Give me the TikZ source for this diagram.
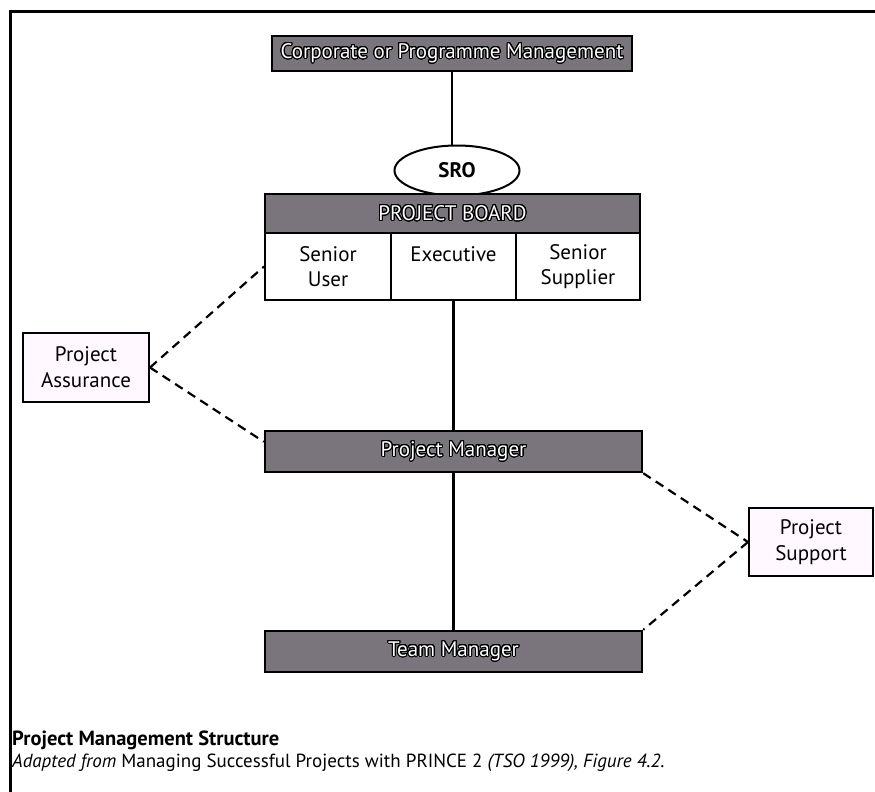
\documentclass[tikz,border=0pt]{standalone}
\usepackage{fontspec}
\setmainfont{PT Sans}
\usepackage{contour}
\contourlength{1.0pt}
\contournumber{32}
\usetikzlibrary{shapes.geometric,calc}
\definecolor{boxgray}{RGB}{122,117,124}
\definecolor{boxpink}{RGB}{255,248,255}
\newcommand\wtxt[1]{{\color{white}\contour{black}{#1}}}
\begin{document}
\begin{tikzpicture}[x=1pt,y=-1pt,
  darkbox/.style={draw=black, line width=2.4pt, fill=boxgray, inner sep=0pt, font=\fontsize{21}{23}\selectfont},
  cellbox/.style={draw=black, line width=2pt, fill=white, inner sep=0pt, align=center, minimum height=67pt, font=\fontsize{21}{25}\selectfont},
  sidebox/.style={draw=black, line width=2pt, fill=boxpink, inner sep=0pt, align=center, font=\fontsize{21}{26}\selectfont},
  sroshape/.style={ellipse, draw=black, line width=2pt, fill=white, minimum width=125pt, minimum height=50pt, inner sep=0pt, font=\bfseries\fontsize{21}{23}\selectfont},
  link/.style={line width=2.2pt},
  dlink/.style={line width=2.2pt, dash pattern=on 9pt off 6pt}]
\useasboundingbox (0,0) rectangle (875,792);
\fill[white] (0,0) rectangle (875,792);
\draw[line width=3pt] (10,792) -- (10,12) -- (875,12);

\node[darkbox, minimum width=360pt, minimum height=35pt] (corp) at (452,53.5) {\wtxt{Corporate or Programme Management}};
\node[sroshape] (sro) at (457,170.5) {SRO};
\node[darkbox, minimum width=375pt, minimum height=39pt] (board) at (452.5,213.5) {\wtxt{PROJECT BOARD}};
\node[cellbox, minimum width=126pt] (su) at (328,266.5) {Senior\\User};
\node[cellbox, minimum width=125pt] (ex) at (453.5,266.5) {Executive\\\mbox{}};
\node[cellbox, minimum width=124pt] (ss) at (578,266.5) {Senior\\Supplier};
\node[darkbox, minimum width=377pt, minimum height=41pt] (pm) at (453.5,451.5) {\wtxt{Project Manager}};
\node[darkbox, minimum width=377pt, minimum height=41pt] (tm) at (453.5,651.5) {\wtxt{Team Manager}};
\node[sidebox, minimum width=126pt, minimum height=69pt] (pa) at (86,367.5) {Project\\Assurance};
\node[sidebox, minimum width=124pt, minimum height=68pt] (ps) at (811,542) {Project\\Support};

\draw[link] (corp.south) -- (corp.south |- sro.north);
\draw[link] (ex.south) -- (pm.north);
\draw[link] (pm.south) -- (tm.north);

\draw[dlink] (pa.east) -- (su.west);
\draw[dlink] (pa.east) -- ($(pm.north west)+(0,12)$);
\draw[dlink] (pm.south east) -- (ps.west);
\draw[dlink] (ps.west) -- (tm.north east);

\node[anchor=base west, inner sep=0pt, font=\bfseries\fontsize{20.5}{22}\selectfont] (cap1) at (12,745) {Project Management Structure};
\node[anchor=base west, inner sep=0pt, font=\fontsize{19}{22}\selectfont] (cap2) at (12,767) {\textit{Adapted from} Managing Successful Projects with PRINCE 2 \textit{(TSO 1999), Figure 4.2.}};
\end{tikzpicture}
\end{document}
